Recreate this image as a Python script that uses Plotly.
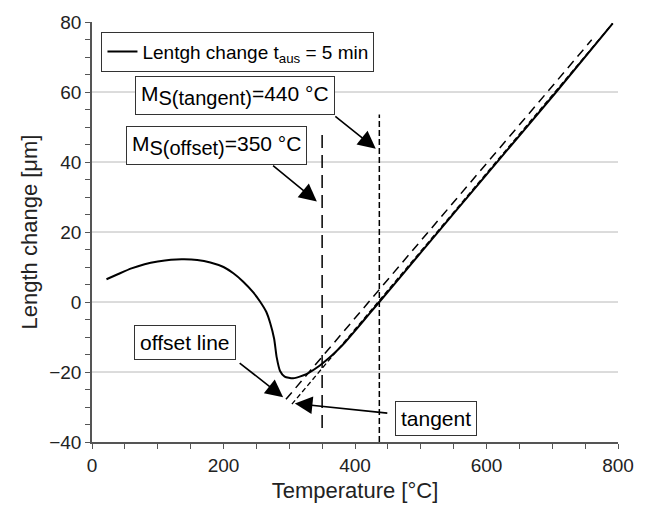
import plotly.graph_objects as go

# ---- data ----
temp = [22, 40, 60, 80, 100, 120, 140, 160, 180, 200, 215, 230, 245, 255, 265, 271, 277,
        281, 286, 293, 306, 326, 346, 360, 372, 385, 397, 410, 422, 437, 500, 600, 706, 792]
length = [6.5, 8.0, 9.6, 10.8, 11.6, 12.1, 12.2, 12.0, 11.3, 10.0, 8.2, 5.8, 2.8, 0.3, -2.8, -6.0, -10.5,
          -15.9, -19.7, -21.3, -21.8, -20.6, -18.2, -16.1, -14.0, -11.5, -8.9, -6.0, -3.3, 0.0, 14.1, 36.4, 60.0, 79.6]

tangent_T = [304, 792]
tangent_L = [-29.2, 79.6]
offset_T = [295, 760]
offset_L = [-27.8, 74.9]

ms_offset_T = [350, 350]
ms_offset_L = [-36, 48.2]
ms_tangent_T = [437, 437]
ms_tangent_L = [-40, 53.6]

grid_vals = [-20, 0, 20, 40, 60]

# arrows: (tail_T, tail_L, tip_T, tip_L)
arrows = [
    (367.8, 53.4, 431.6, 43.8),
    (273.1, 39.3, 342.0, 28.7),
    (222.3, -17.1, 290.7, -27.2),
    (451.4, -31.8, 308.5, -29.0),
]

FONT = "Liberation Sans, Arial, sans-serif"

fig = go.Figure()
fig.add_trace(go.Scatter(x=temp, y=length, mode="lines",
                         line=dict(color="black", width=2, shape="spline", smoothing=0.6),
                         name="Lentgh change t<sub>aus</sub> = 5 min"))
fig.add_trace(go.Scatter(x=tangent_T, y=tangent_L, mode="lines",
                         line=dict(color="black", width=1.3, dash="5px,3px"), showlegend=False))
fig.add_trace(go.Scatter(x=offset_T, y=offset_L, mode="lines",
                         line=dict(color="black", width=1.5, dash="9px,6px"), showlegend=False))
fig.add_trace(go.Scatter(x=ms_offset_T, y=ms_offset_L, mode="lines",
                         line=dict(color="black", width=1.5, dash="13px,7px"), showlegend=False))
fig.add_trace(go.Scatter(x=ms_tangent_T, y=ms_tangent_L, mode="lines",
                         line=dict(color="black", width=1.5, dash="6px,3px"), showlegend=False))

shapes = [dict(type="line", xref="paper", x0=0, x1=1, yref="y", y0=g, y1=g,
               line=dict(color="#b8b8b8", width=1), layer="below") for g in grid_vals]

box = dict(showarrow=False, bgcolor="white", bordercolor="#333", borderwidth=1,
           borderpad=5, font=dict(family=FONT, size=21, color="black"), xref="x", yref="y")
sub = '<sub><span style="font-size:20px">%s</span></sub>'
annotations = [
    dict(text="M" + sub % "S(tangent)" + "=440 °C", x=217.8, y=59.0, **box),
    dict(text="M" + sub % "S(offset)" + "=350 °C", x=189.5, y=44.7, **box),
    dict(text="offset line", x=141.6, y=-11.7, **box),
    dict(text="tangent", x=523, y=-33.2, **box),
]
for t0, l0, t1, l1 in arrows:
    annotations.append(dict(text="", showarrow=True, arrowhead=2, arrowsize=2.2, arrowwidth=1.6,
                            arrowcolor="black", xref="x", yref="y", axref="x", ayref="y",
                            x=t1, y=l1, ax=t0, ay=l0))

axis_common = dict(showline=True, linecolor="#555", linewidth=1.5, ticks="outside",
                   ticklen=5, tickwidth=1.2, tickcolor="#555", showgrid=False, zeroline=False,
                   tickfont=dict(family=FONT, size=19, color="#222"))

fig.update_layout(
    width=646, height=512,
    margin=dict(l=92, r=27, t=15, b=70),
    paper_bgcolor="white", plot_bgcolor="white",
    font=dict(family=FONT, color="#222"),
    shapes=shapes, annotations=annotations,
    showlegend=True,
    legend=dict(x=0.018, y=0.977, xanchor="left", yanchor="top",
                bgcolor="white", bordercolor="#333", borderwidth=1,
                font=dict(family=FONT, size=19, color="black"), itemwidth=30),
    xaxis=dict(range=[0, 800], tick0=0, dtick=200, title=dict(text="Temperature [°C]",
               font=dict(family=FONT, size=22, color="#222"), standoff=8),
               minor=dict(dtick=50, ticks="outside", ticklen=5, tickcolor="#555", showgrid=False),
               **axis_common),
    yaxis=dict(range=[-40, 80], tick0=0, dtick=20, title=dict(text="Length change [μm]",
               font=dict(family=FONT, size=22, color="#222"), standoff=6),
               minor=dict(dtick=5, ticks="outside", ticklen=5, tickcolor="#555", showgrid=False),
               **axis_common),
)

fig.write_html("out.html")
